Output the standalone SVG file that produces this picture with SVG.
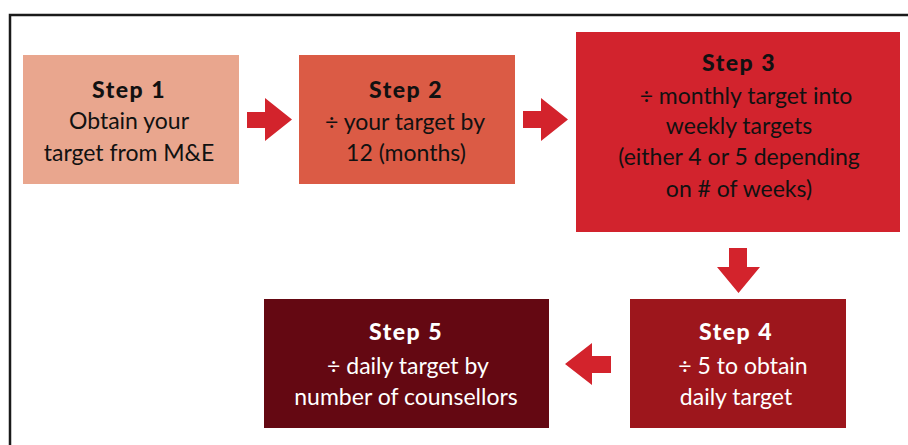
<svg xmlns="http://www.w3.org/2000/svg" width="908" height="445" viewBox="0 0 908 445">
<style>
.t{font-family:Lato,"Liberation Sans",sans-serif;font-size:23px;text-anchor:middle}
.h{font-weight:900;letter-spacing:1.5px}
.dk{fill:#111}
.lt{fill:#fff}
.arr{fill:#D3232C}
</style>
<rect width="908" height="445" fill="#fff"/>
<polyline points="10,445 10,15 908,15" fill="none" stroke="#1a1a1a" stroke-width="2.5"/>
<g id="step1">
<rect x="23" y="55" width="216" height="129" fill="#E9A68E"/>
<text class="t h dk" x="129" y="98">Step 1</text>
<text class="t dk" x="129" y="129">Obtain your</text>
<text class="t dk" x="129" y="161">target from M&amp;E</text>
</g>
<g id="step2">
<rect x="299" y="55" width="216" height="129" fill="#DB5B45"/>
<text class="t h dk" x="406" y="98">Step 2</text>
<text class="t dk" x="405" y="130">÷ your target by</text>
<text class="t dk" x="406" y="161">12 (months)</text>
</g>
<g id="step3">
<rect x="576" y="32" width="324" height="200" fill="#D2232D"/>
<text class="t h dk" x="739" y="71">Step 3</text>
<text class="t dk" x="746" y="104">÷ monthly target into</text>
<text class="t dk" x="739" y="134">weekly targets</text>
<text class="t dk" x="739" y="165">(either 4 or 5 depending</text>
<text class="t dk" x="739" y="197">on # of weeks)</text>
</g>
<g id="step4">
<rect x="630" y="299" width="216" height="129" fill="#9D161C"/>
<text class="t h lt" x="736" y="340">Step 4</text>
<text class="t lt" x="743" y="374">÷ 5 to obtain</text>
<text class="t lt" x="736" y="405">daily target</text>
</g>
<g id="step5">
<rect x="264" y="299" width="285" height="129" fill="#640812"/>
<text class="t h lt" x="406" y="340">Step 5</text>
<text class="t lt" x="408" y="374">÷ daily target by</text>
<text class="t lt" x="406" y="405">number of counsellors</text>
</g>
<g id="connectors">
<polygon class="arr" points="247,112 265,112 265,98 292,119.5 265,141 265,128 247,128"/>
<polygon class="arr" points="523,111 541,111 541,98 568,119.5 541,141 541,128 523,128"/>
<polygon class="arr" points="729,248 747,248 747,267 760,267 738.5,293 717,267 729,267"/>
<polygon class="arr" points="611,356 592,356 592,343 565,364 592,385 592,373 611,373"/>
</g>
</svg>
